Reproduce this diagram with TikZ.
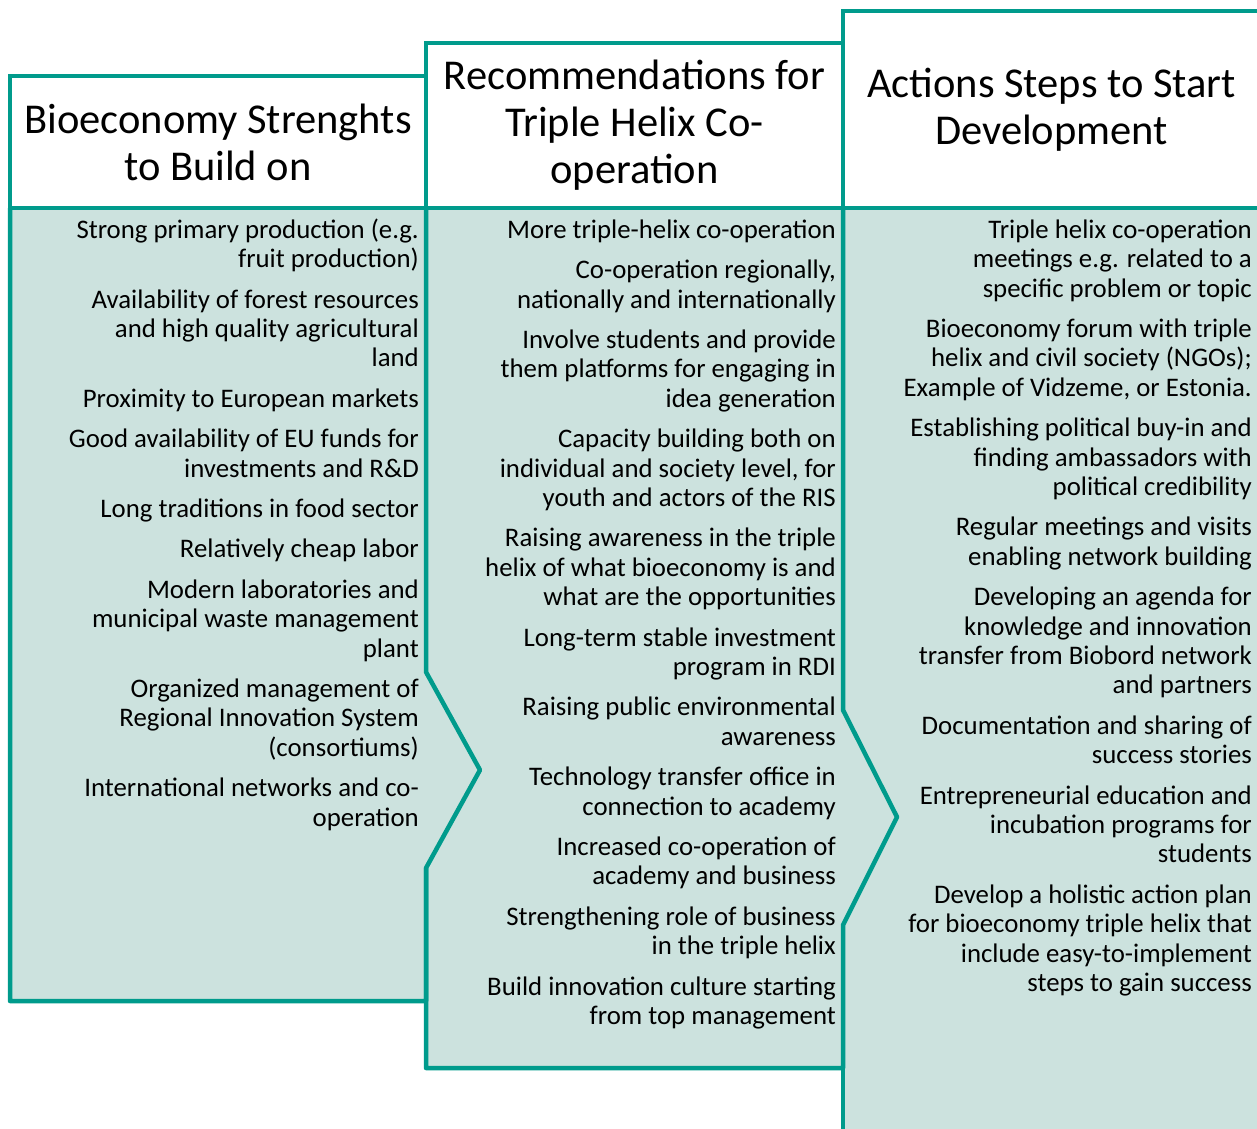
\documentclass[tikz,border=0pt]{standalone}
\usepackage{fontspec}
\setmainfont{Carlito}
\usetikzlibrary{positioning}
\definecolor{helixteal}{HTML}{009B8C}
\definecolor{helixfill}{HTML}{CCE2DE}
\tikzset{
  headbox/.style = {rectangle, draw=helixteal, line width=4.5pt, fill=white, align=center, inner sep=0pt, font=\fontsize{42.5}{47}\selectfont},
  itemlist/.style = {align=right, anchor=north east, inner sep=0pt, font=\fontsize{26.8}{29.4}\selectfont},
  rim/.style = {draw=helixteal, line width=4.5pt, line join=round},
  bodyfill/.style = {fill=helixfill}
}
\newcommand{\firstline}{\rule{0pt}{24pt}}
\newcommand{\itemgap}{\\[11pt]}

\begin{document}
\begin{tikzpicture}[x=1pt, y=-1pt]

  \useasboundingbox (0,0) rectangle (1257,1128);
  \clip (0,0) rectangle (1257,1128);

  % Chevron tips
  \coordinate (tipA) at (480,770);
  \coordinate (tipB) at (897,817);

  % Column fills
  \fill[bodyfill] (10,208) -- (426,208) -- (426,672) -- (tipA) -- (426,868) -- (426,1001) -- (10,1001) -- cycle;
  \fill[bodyfill] (426,208) -- (843,208) -- (843,710) -- (tipB) -- (843,925) -- (843,1068) -- (426,1068) -- (426,868) -- (tipA) -- (426,672) -- cycle;
  \fill[bodyfill] (843,208) -- (1265,208) -- (1265,1140) -- (843,1140) -- (843,925) -- (tipB) -- (843,710) -- cycle;

  % Column rims
  \draw[rim] (426,208) -- (426,672) -- (tipA) -- (426,868) -- (426,1001) -- (10,1001) -- (10,208);
  \draw[rim] (426,868) -- (426,1068) -- (843,1068) -- (843,925) -- (tipB) -- (843,710) -- (843,208);
  \draw[rim] (843,925) -- (843,1140);

  % Headers
  \node (headA) [headbox, minimum width=416pt, minimum height=132pt] at (218,142) {Bioeconomy Strenghts\\to Build on};
  \node (headB) [headbox, minimum width=417pt, minimum height=165pt] at (634.5,125.5) {Recommendations for\\Triple Helix Co-\\operation};
  \node (headC) [headbox, minimum width=417pt, minimum height=197pt] at (1051.5,109.5) {Actions Steps to Start\\Development};

  % Strengths
  \node (strengths) [itemlist] at (419,214) {\firstline Strong primary production (e.g.\\ fruit production)\itemgap
    Availability of forest resources\\ and high quality agricultural\\ land\itemgap
    Proximity to European markets\itemgap
    Good availability of EU funds for\\ investments and R\&D\itemgap
    Long traditions in food sector\itemgap
    Relatively cheap labor\itemgap
    Modern laboratories and\\ municipal waste management\\ plant\itemgap
    Organized management of\\ Regional Innovation System\\ (consortiums)\itemgap
    International networks and co-\\ operation};

  % Recommendations
  \node (recs) [itemlist] at (836,214) {\firstline More triple-helix co-operation\itemgap
    Co-operation regionally,\\ nationally and internationally\itemgap
    Involve students and provide\\ them platforms for engaging in\\ idea generation\itemgap
    Capacity building both on\\ individual and society level, for\\ youth and actors of the RIS\itemgap
    Raising awareness in the triple\\ helix of what bioeconomy is and\\ what are the opportunities\itemgap
    Long-term stable investment\\ program in RDI\itemgap
    Raising public environmental\\ awareness\itemgap
    Technology transfer office in\\ connection to academy\itemgap
    Increased co-operation of\\ academy and business\itemgap
    Strengthening role of business\\ in the triple helix\itemgap
    Build innovation culture starting\\ from top management};

  % Action steps
  \node (actions) [itemlist] at (1252,214) {\firstline Triple helix co-operation\\ meetings e.g. related to a\\ specific problem or topic\itemgap
    Bioeconomy forum with triple\\ helix and civil society (NGOs);\\ Example of Vidzeme, or Estonia.\itemgap
    Establishing political buy-in and\\ finding ambassadors with\\ political credibility\itemgap
    Regular meetings and visits\\ enabling network building\itemgap
    Developing an agenda for\\ knowledge and innovation\\ transfer from Biobord network\\ and partners\itemgap
    Documentation and sharing of\\ success stories\itemgap
    Entrepreneurial education and\\ incubation programs for\\ students\itemgap
    Develop a holistic action plan\\ for bioeconomy triple helix that\\ include easy-to-implement\\ steps to gain success};

\end{tikzpicture}
\end{document}
